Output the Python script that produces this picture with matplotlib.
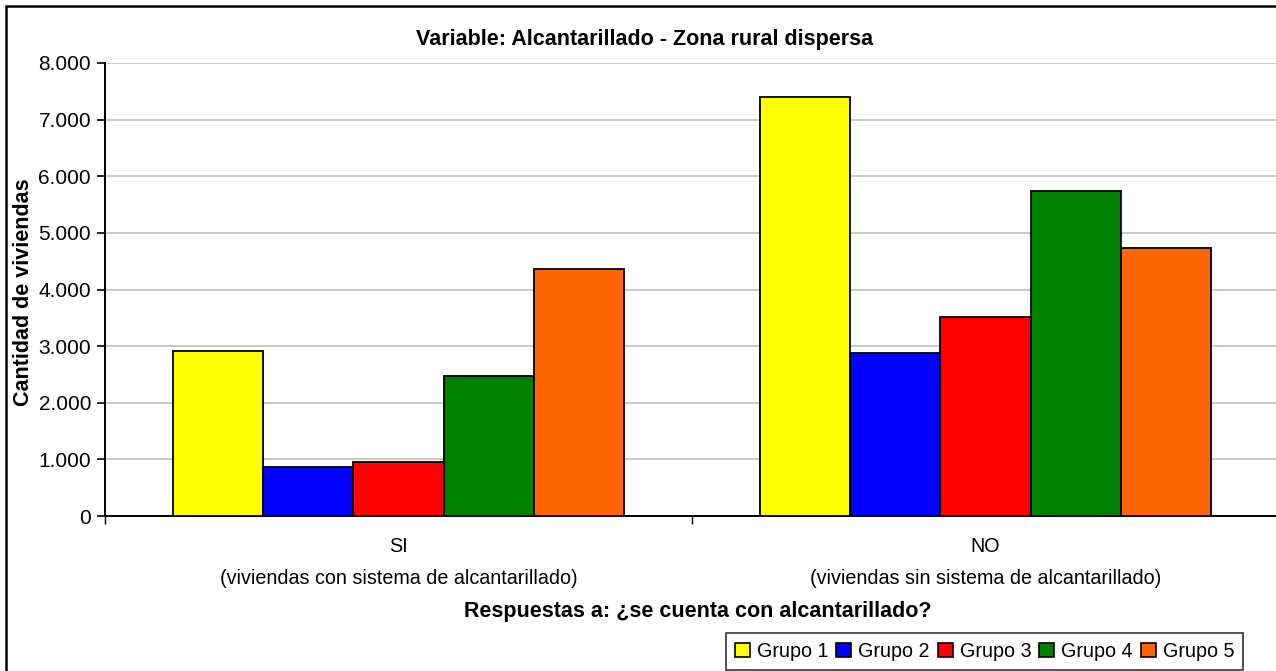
"""Excel-style grouped bar chart: Alcantarillado - Zona rural dispersa."""

import matplotlib
matplotlib.use("Agg")
import matplotlib.pyplot as plt
from matplotlib.patches import Patch, Rectangle
import numpy as np

# Data
categories = ["SI\n(viviendas con sistema de alcantarillado)",
              "NO\n(viviendas sin sistema de alcantarillado)"]
groups = ["Grupo 1", "Grupo 2", "Grupo 3", "Grupo 4", "Grupo 5"]
grupo1 = [2910, 7400]
grupo2 = [870, 2880]
grupo3 = [960, 3510]
grupo4 = [2470, 5740]
grupo5 = [4360, 4730]
colors = ["#FFFF00", "#0000FF", "#FF0000", "#008000", "#FF6600"]
y_ticks = [0, 1000, 2000, 3000, 4000, 5000, 6000, 7000, 8000]
y_tick_labels = ["0", "1.000", "2.000", "3.000", "4.000",
                 "5.000", "6.000", "7.000", "8.000"]

W, H = 1276, 671
plt.rcParams["font.family"] = ["Liberation Sans", "DejaVu Sans"]

fig = plt.figure(figsize=(W / 100, H / 100), dpi=100)
fig.patch.set_facecolor("white")


def fx(px):
    return px / W


def fy(py):
    return 1 - py / H


# Plot area (pixel box: left 105, top 63, right 1279, bottom 516)
ax = fig.add_axes([fx(105), fy(516), (1279 - 105) / W, (516 - 63) / H])

series = [grupo1, grupo2, grupo3, grupo4, grupo5]
x = np.arange(len(categories))
bar_w = 0.1537
for i, (vals, col, name) in enumerate(zip(series, colors, groups)):
    offset = (i - 2) * bar_w
    ax.bar(x + offset, vals, width=bar_w, color=col, edgecolor="black",
           linewidth=1.3, label=name, zorder=3)

ax.set_xlim(-0.5, 1.5)
ax.set_ylim(0, 8000)

ax.set_yticks(y_ticks)
ax.set_yticklabels(y_tick_labels, fontsize=15)
ax.set_xticks(x)
ax.set_xticklabels(categories, fontsize=14.2, linespacing=1.85)
ax.set_xticks([-0.5, 0.5, 1.5], minor=True)
ax.tick_params(axis="x", which="major", length=0, pad=15)
ax.tick_params(axis="x", which="minor", length=6, width=1, color="black")
ax.tick_params(axis="y", length=6, width=1.2, pad=4, color="black")

ax.grid(axis="y", color="#c0c0c0", linewidth=1.2, zorder=0)
ax.set_axisbelow(True)

for side in ["top", "right"]:
    ax.spines[side].set_visible(False)
ax.spines["left"].set_linewidth(1.4)
ax.spines["bottom"].set_linewidth(1.4)

# Titles
fig.text(fx(645), fy(40), "Variable: Alcantarillado - Zona rural dispersa",
         ha="center", va="center", fontsize=15.5, fontweight="bold")
fig.text(fx(698), fy(612), "Respuestas a: \u00bfse cuenta con alcantarillado?",
         ha="center", va="center", fontsize=15.5, fontweight="bold")
fig.text(fx(24), fy(292), "Cantidad de viviendas", rotation=90,
         ha="center", va="center", fontsize=15.5, fontweight="bold")

# Legend
handles = [Patch(facecolor=c, edgecolor="black", linewidth=1.2) for c in colors]
leg = fig.legend(handles, groups, loc="upper left",
                 bbox_to_anchor=(fx(726), fy(633)), bbox_transform=fig.transFigure,
                 ncol=5, fontsize=14.2, frameon=True, fancybox=False,
                 handlelength=0.75, handleheight=0.75, handletextpad=0.35,
                 columnspacing=0.42, borderpad=0.45, borderaxespad=0)
leg.get_frame().set_edgecolor("black")
leg.get_frame().set_linewidth(1.2)

# Outer chart frame (extends past right/bottom edges as in reference)
fig.patches.append(Rectangle((fx(6), fy(720)), fx(1300), fy(6) - fy(720),
                             transform=fig.transFigure, fill=False,
                             edgecolor="black", linewidth=1.8))

fig.savefig("out.png", dpi=100, facecolor="white")
plt.close(fig)
